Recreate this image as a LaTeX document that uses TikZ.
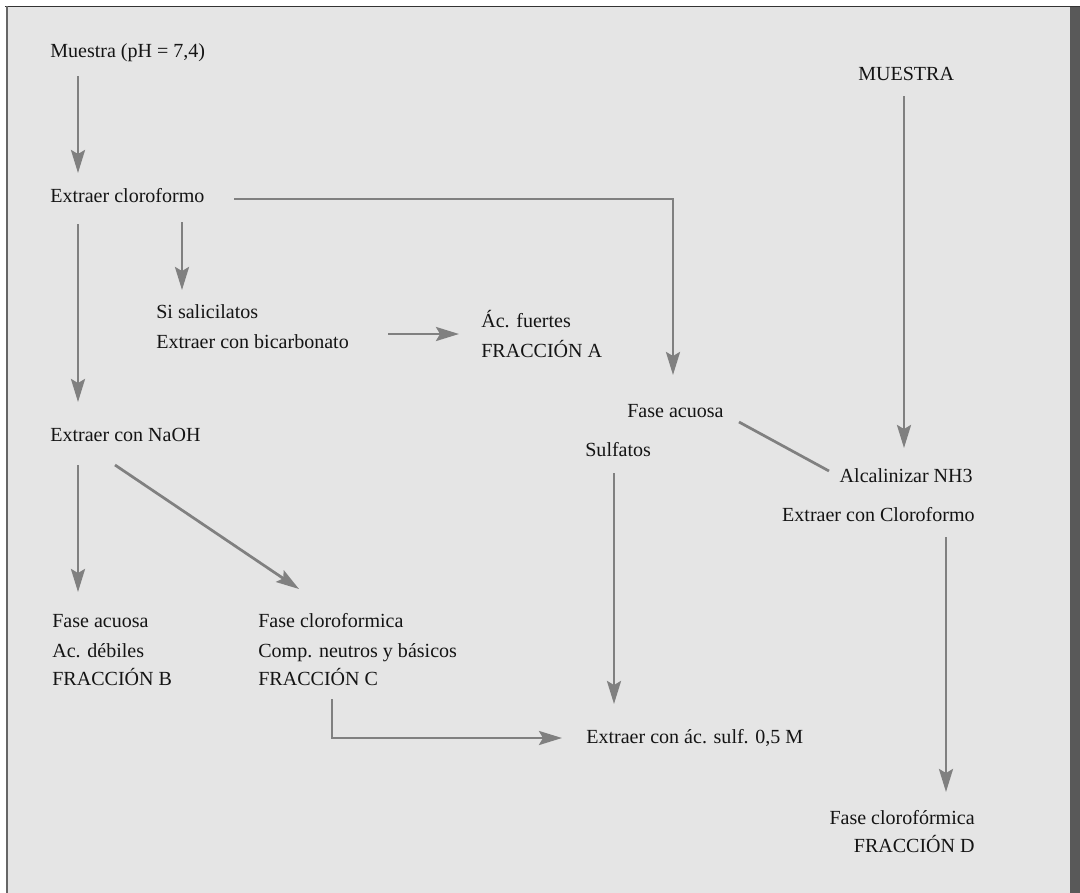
\documentclass[tikz,border=0pt]{standalone}
\usepackage{fontspec}
\setmainfont{Liberation Serif}
\usetikzlibrary{arrows.meta}
\definecolor{panel}{HTML}{E5E5E5}
\definecolor{gris}{HTML}{808080}
\definecolor{barra}{HTML}{595959}
\definecolor{tinta}{HTML}{141414}

\begin{document}
\begin{tikzpicture}[x=0.02cm,y=-0.02cm]
\tikzstyle{every node}+=[inner sep=0pt, text=tinta, font=\fontsize{11.4}{13.5}\selectfont]
\tikzstyle{izq}=[anchor=base west]
\tikzstyle{der}=[anchor=base east]
\tikzstyle{linea}=[draw=gris, line width=1.55pt]
\tikzstyle{paso}=[linea, -{Stealth[length=0.46cm,width=0.28cm,inset=0.08cm]}]
% marco
\useasboundingbox (0,0) rectangle (1080,893);
\fill [panel] (7,7) rectangle (1070,893);
\fill [barra] (1070,7) rectangle (1080,893);
\draw [black!80, line width=1.1pt] (5,6.5) -- (1080,6.5);
\draw [black!60, line width=1.1pt] (7,6) -- (7,893);
% columna izquierda
\node [izq] (m1) at (50,57) {Muestra (pH = 7,4)};
\node [izq] (e1) at (50,202) {Extraer cloroformo};
\node [izq] (s1) at (156,318) {Si salicilatos};
\node [izq] (s2) at (156,348) {Extraer con bicarbonato};
\node [izq] (a1) at (481,327) {Ác. fuertes};
\node [izq] (a2) at (481,357) {FRACCIÓN A};
\node [izq] (n1) at (50,441) {Extraer con NaOH};
\node [izq] (fb1) at (52,627) {Fase acuosa};
\node [izq] (fb2) at (52,657) {Ac. débiles};
\node [izq] (fb3) at (52,685) {FRACCIÓN B};
\node [izq] (fc1) at (258,627) {Fase cloroformica};
\node [izq] (fc2) at (258,657) {Comp. neutros y básicos};
\node [izq] (fc3) at (258,685) {FRACCIÓN C};
% centro
\node [izq] (fa) at (627,417) {Fase acuosa};
\node [izq] (su) at (585,456) {Sulfatos};
\node [izq] (ex) at (586,743) {Extraer con ác. sulf. 0,5 M};
% columna derecha
\node [izq] (mu) at (858,80) {MUESTRA};
\node [der] (al) at (973,482) {Alcalinizar NH3};
\node [der] (ec) at (975,521) {Extraer con Cloroformo};
\node [der] (fd1) at (975,824) {Fase clorofórmica};
\node [der] (fd2) at (975,852) {FRACCIÓN D};
% flechas
\draw [paso] ([shift={(28,19)}]m1.base west) -- ([shift={(28,-29)}]e1.base west);
\draw [paso] ([shift={(184,-3)}]e1.base west) -| ([shift={(46,-42)}]fa.base west);
\draw [paso] ([shift={(132,20)}]e1.base west) -- ([shift={(26,-28)}]s1.base west);
\draw [paso] ([shift={(28,22)}]e1.base west) -- ([shift={(28,-39)}]n1.base west);
\draw [paso] ([shift={(232,-14)}]s2.base west) -- ([shift={(-22,-23)}]a2.base west);
\draw [paso] ([shift={(28,24)}]n1.base west) -- ([shift={(26,-35)}]fb1.base west);
\draw [paso] ([shift={(65,24)}]n1.base west) -- ([shift={(41,-38)}]fc1.base west);
\draw [paso] ([shift={(74,14)}]fc3.base west) |- ([shift={(-24,-5)}]ex.base west);
\draw [paso] ([shift={(29,17)}]su.base west) -- ([shift={(28,-39)}]ex.base west);
\draw [linea] ([shift={(112,5)}]fa.base west) -- ([shift={(-144,-11)}]al.base east);
\draw [paso] ([shift={(46,16)}]mu.base west) -- ([shift={(-69,-34)}]al.base east);
\draw [paso] ([shift={(-29,16)}]ec.base east) -- ([shift={(-29,-32)}]fd1.base east);
\end{tikzpicture}
\end{document}
